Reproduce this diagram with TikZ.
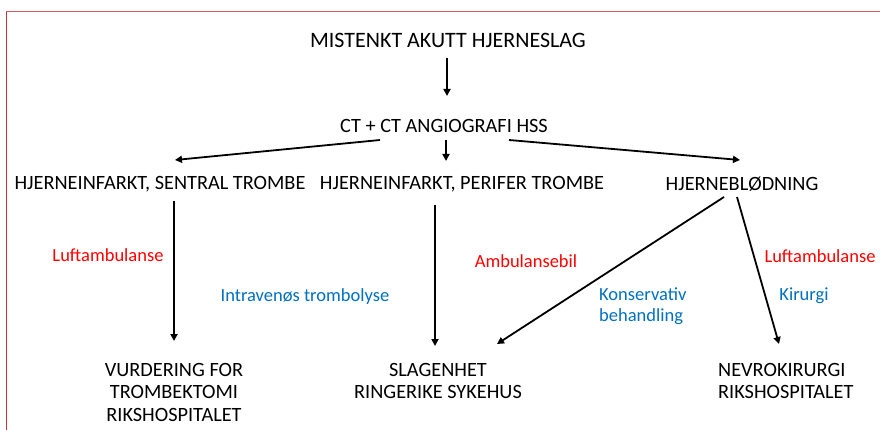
\documentclass[tikz,border=0pt]{standalone}
\usepackage{fontspec}
\setmainfont{Carlito}
\usetikzlibrary{arrows.meta}
\definecolor{bord}{HTML}{C8343A}
\definecolor{lred}{HTML}{FF0000}
\definecolor{lblue}{HTML}{0070C0}
\tikzset{
  x=1pt, y=-1pt,
  txt/.style={inner sep=0pt, font=\fontsize{20.3}{22.5}\selectfont, text=black},
  ttl/.style={inner sep=0pt, font=\fontsize{22}{26}\selectfont, text=black},
  lbl/.style={inner sep=0pt, font=\fontsize{18.5}{21}\selectfont},
  arr/.style={line width=1.8pt, -{Triangle[length=7pt,width=7pt]}},
}
\begin{document}
\begin{tikzpicture}
\useasboundingbox (0,0) rectangle (880,430);
\draw[bord, line width=1.5pt] (6.5,430) -- (6.5,11.5);
\draw[bord!80, line width=1pt] (6,11.5) -- (880,11.5);

\node[ttl] (top) at (448,40) {MISTENKT AKUTT HJERNESLAG};
\node[txt] (ct) at (444,126) {CT + CT ANGIOGRAFI HSS};
\node[txt] (sent) at (160,184) {HJERNEINFARKT, SENTRAL TROMBE};
\node[txt] (peri) at (462,184) {HJERNEINFARKT, PERIFER TROMBE};
\node[txt] (blod) at (742,184) {HJERNEBLØDNING};

\node[txt, align=center, anchor=north] (vurd) at (174,363) {VURDERING FOR\\TROMBEKTOMI\\RIKSHOSPITALET};
\node[txt, align=center, anchor=north] (slag) at (438,363) {SLAGENHET\\RINGERIKE SYKEHUS};
\node[txt, align=left, anchor=north west] (nevro) at (718,363) {NEVROKIRURGI\\RIKSHOSPITALET};

\coordinate (a1s) at (447,58); \coordinate (a1e) at (447,96);
\draw[arr] (a1s) -- (a1e);
\coordinate (c1) at (380,140); \coordinate (c1e) at (175,160);
\coordinate (c2) at (446,140); \coordinate (c2e) at (446,161);
\coordinate (c3) at (509,140); \coordinate (c3e) at (740,160);
\draw[arr] (c1) -- (c1e);
\draw[arr] (c2) -- (c2e);
\draw[arr] (c3) -- (c3e);

\coordinate (s1) at (174,201); \coordinate (s1e) at (174,341);
\draw[arr] (s1) -- (s1e);
\coordinate (p1) at (435,205); \coordinate (p1e) at (435,346);
\draw[arr] (p1) -- (p1e);
\coordinate (b1) at (724,197); \coordinate (b1e) at (497,344);
\draw[arr] (b1) -- (b1e);
\coordinate (b2) at (737,197); \coordinate (b2e) at (779,344);
\draw[arr] (b2) -- (b2e);

\node[lbl, text=lred] (l1) at (108,255) {Luftambulanse};
\node[lbl, text=lblue] (l2) at (305,297) {Intravenøs trombolyse};
\node[lbl, text=lred] (l3) at (526,261) {Ambulansebil};
\node[lbl, text=lblue, align=left, anchor=west] (l4) at (599,306) {Konservativ\\behandling};
\node[lbl, text=lred] (l5) at (820,256) {Luftambulanse};
\node[lbl, text=lblue] (l6) at (804,296) {Kirurgi};
\end{tikzpicture}
\end{document}
